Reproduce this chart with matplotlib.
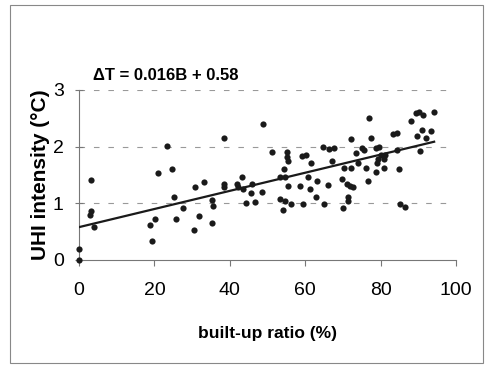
import matplotlib
matplotlib.use("Agg")
import matplotlib.pyplot as plt
from matplotlib.patches import Rectangle

built_up = [0, 0, 3.2, 2.9, 3.2, 3.9, 23.3, 20.9, 24.7, 25.1, 18.8, 20.1, 19.3, 25.8, 27.6,
            30.8, 30.5, 31.9, 48.7, 38.4, 33.1, 35.3, 35.2, 35.6, 38.5, 38.5, 41.8, 42.1,
            43.2, 43.6, 45.8, 45.5, 44.3, 46.6, 48.5, 51.1, 55.1, 55.2, 55.4, 54.5, 53.3,
            54.6, 55.4, 53.3, 54.7, 54.0, 56.3, 58.5, 59.1, 60.1, 61.5, 60.8, 61.3, 63.2,
            62.8, 59.5, 64.9, 64.6, 66.2, 66.1, 67.7, 76.8, 72.1, 77.4, 75.1, 75.7, 73.5,
            78.7, 79.5, 83.3, 84.3, 84.4, 88.0, 89.5, 90.2, 91.2, 94.2, 91.1, 89.7, 92.0,
            93.5, 90.5, 67.0, 70.3, 72.1, 74.1, 76.0, 79.2, 79.0, 80.9, 81.2, 80.1, 78.8,
            81.0, 84.9, 69.7, 71.0, 72.0, 72.6, 76.7, 71.3, 71.3, 70.0, 85.1, 86.6]
uhi = [0.19, 0.0, 1.41, 0.80, 0.86, 0.59, 2.01, 1.54, 1.61, 1.12, 0.61, 0.72, 0.34, 0.72, 0.92,
       1.29, 0.53, 0.78, 2.40, 2.16, 1.38, 0.66, 1.06, 0.95, 1.35, 1.29, 1.34, 1.29,
       1.46, 1.26, 1.35, 1.18, 1.00, 1.02, 1.20, 1.90, 1.91, 1.82, 1.75, 1.60, 1.46,
       1.46, 1.30, 1.08, 1.04, 0.89, 0.98, 1.30, 1.83, 1.85, 1.72, 1.46, 1.25, 1.40,
       1.12, 0.99, 0.98, 1.99, 1.96, 1.32, 1.98, 2.50, 2.13, 2.16, 1.97, 1.95, 1.89,
       1.97, 2.00, 2.22, 2.24, 1.94, 2.46, 2.59, 2.61, 2.56, 2.61, 2.29, 2.19, 2.15,
       2.27, 1.92, 1.75, 1.63, 1.63, 1.71, 1.63, 1.78, 1.72, 1.78, 1.85, 1.85, 1.56,
       1.63, 1.60, 1.43, 1.34, 1.30, 1.28, 1.39, 1.11, 1.05, 0.91, 0.99, 0.94]
slope = 0.016
intercept = 0.58
fit_range = [0, 94.2]
x_ticks = [0, 20, 40, 60, 80, 100]
y_ticks = [0, 1, 2, 3]

fig = plt.figure(figsize=(4.86, 3.65), dpi=100)
fig.patches.append(Rectangle((10/486, 1-363/365), 473/486, 358/365, transform=fig.transFigure,
                             fill=False, edgecolor='#888888', linewidth=0.8))
ax = fig.add_axes([79/486, 1-260/365, 377/486, 170/365])
ax.set_xlim(0, 100)
ax.set_ylim(0, 3)
for s in ['top', 'right']:
    ax.spines[s].set_visible(False)
for s in ['left', 'bottom']:
    ax.spines[s].set_color('#777777')
    ax.spines[s].set_linewidth(0.8)
for yv in y_ticks[1:]:
    ax.axhline(yv, xmax=0.98, color='#999999', linestyle=(0, (5, 8)), linewidth=0.8, zorder=0)
ax.set_xticks(x_ticks)
ax.set_yticks(y_ticks)
ax.tick_params(axis='x', direction='out', length=4, color='#777777', labelsize=14, pad=12)
ax.tick_params(axis='y', direction='inout', length=6, color='#777777', labelsize=14, pad=8)
for lab in ax.get_xticklabels() + ax.get_yticklabels():
    lab.set_family('Liberation Sans')

ax.scatter(built_up, uhi, s=20, color='#1a1a1a', zorder=3, clip_on=False, linewidths=0)
fx = fit_range
fy = [intercept + slope * v for v in fx]
ax.plot(fx, fy, color='#1a1a1a', linewidth=1.6, zorder=4)

ax.set_xlabel('built-up ratio (%)', fontsize=12.5, fontweight='bold', family='Liberation Sans', labelpad=19)
ax.set_ylabel('UHI intensity (°C)', fontsize=15, fontweight='bold', family='Liberation Sans', labelpad=2)
fig.text(93/486, 1-75/365, 'ΔT = 0.016B + 0.58', fontsize=12, fontweight='bold', family='Liberation Sans',
         va='center', ha='left')

fig.savefig('out.png', dpi=100)
